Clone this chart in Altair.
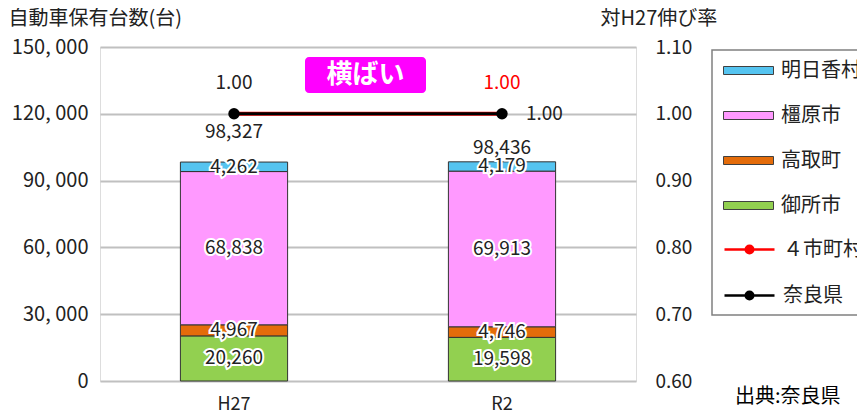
import altair as alt
import pandas as pd

FONT = "Noto Sans CJK JP"

categories = ["H27", "R2"]
gose = [20260, 19598]        # 御所市
takatori = [4967, 4746]      # 高取町
kashihara = [68838, 69913]   # 橿原市
asuka = [4262, 4179]         # 明日香村
totals = [98327, 98436]
rate_4 = [1.00, 1.00]        # ４市町村
rate_nara = [1.00, 1.00]     # 奈良県

bar_series = ["御所市", "高取町", "橿原市", "明日香村"]   # bottom -> top
bar_legend = ["明日香村", "橿原市", "高取町", "御所市"]
bar_colors = ["#55C4F0", "#FF99FF", "#E46C0A", "#92D050"]
line_legend = ["４市町村", "奈良県"]
line_colors = ["#FF0000", "#000000"]
left_ticks = [0, 30000, 60000, 90000, 120000, 150000]
right_ticks = [0.6, 0.7, 0.8, 0.9, 1.0, 1.1]

# ---- tables built from the arrays ----
rows = []
series_vals = [gose, takatori, kashihara, asuka]
for ci, cat in enumerate(categories):
    cum = 0
    for si, name in enumerate(bar_series):
        v = series_vals[si][ci]
        rows.append({"cat": cat, "series": name, "value": v, "ord": si,
                     "mid": cum + v / 2, "label": f"{v:,}"})
        cum += v
bars_df = pd.DataFrame(rows)
tot_df = pd.DataFrame({"cat": categories, "total": totals,
                       "label": [f"{t:,}" for t in totals]})
line_df = pd.DataFrame({
    "cat": categories * 2,
    "rate": rate_4 + rate_nara,
    "series": ["４市町村"] * 2 + ["奈良県"] * 2,
})

W, H = 536, 334
x_enc = alt.X("cat:N", sort=categories,
              scale=alt.Scale(paddingInner=0.6, paddingOuter=0.3),
              axis=alt.Axis(title=None, labelAngle=0, labelFontSize=18, labelFont=FONT,
                            labelColor="#222", labelPadding=14, ticks=False, domain=False))
y_scale = alt.Scale(domain=[0, 150000], nice=False, zero=True)

rect_path = "M-1,-0.4H4V0.4H-1Z"
line_path = ("M-1,0H4"
             "M1.375,0A0.125,0.125,0,1,1,1.625,0A0.125,0.125,0,1,1,1.375,0"
             "M1.125,0A0.375,0.375,0,1,1,1.875,0A0.375,0.375,0,1,1,1.125,0")

legend_common = dict(title=None, orient="none", symbolSize=400, labelOffset=37,
                     labelFontSize=20, labelFont=FONT, labelColor="#222",
                     rowPadding=24, padding=0, labelLimit=300)

bars = alt.Chart(bars_df).mark_bar(stroke="#333333", strokeWidth=1).encode(
    x=x_enc,
    y=alt.Y("value:Q", stack="zero", scale=y_scale,
            axis=alt.Axis(values=left_ticks,
                          labelExpr="replace(format(datum.value, ','), ',', ', ')",
                          title="自動車保有台数(台)",
                          titleAngle=0, titleX=-92, titleY=-29, titleAlign="left",
                          titleBaseline="middle", titleFontSize=20, titleFont=FONT,
                          titleFontWeight="normal", titleColor="#222",
                          labelFontSize=20, labelFont=FONT, labelColor="#222",
                          labelPadding=12, ticks=False, domain=False,
                          grid=True, gridColor="#C0C0C0", gridWidth=2)),
    fill=alt.Fill("series:N", scale=alt.Scale(domain=bar_legend, range=bar_colors),
                  legend=alt.Legend(legendX=623, legendY=13, symbolType=rect_path,
                                    symbolStrokeColor="#404040", symbolStrokeWidth=1,
                                    symbolOpacity=1, **legend_common)),
    order=alt.Order("ord:Q", sort="ascending"),
)

seg_halo = alt.Chart(bars_df).mark_text(font=FONT, fontSize=19, color="white",
                                        stroke="white", strokeWidth=4).encode(
    x=alt.X("cat:N", sort=categories), y=alt.Y("mid:Q", scale=y_scale), text="label:N")
seg_text = alt.Chart(bars_df).mark_text(font=FONT, fontSize=19, color="#222").encode(
    x=alt.X("cat:N", sort=categories), y=alt.Y("mid:Q", scale=y_scale), text="label:N")

tot_h27 = alt.Chart(tot_df).transform_filter(alt.datum.cat == "H27").mark_text(
    font=FONT, fontSize=19, color="#222", dy=-30).encode(
    x=alt.X("cat:N", sort=categories), y=alt.Y("total:Q", scale=y_scale), text="label:N")
tot_r2 = alt.Chart(tot_df).transform_filter(alt.datum.cat == "R2").mark_text(
    font=FONT, fontSize=19, color="#222", dy=-14).encode(
    x=alt.X("cat:N", sort=categories), y=alt.Y("total:Q", scale=y_scale), text="label:N")

one = tot_df.iloc[:1]
legend_frame = alt.Chart(one).mark_rect(fill="white", stroke="#808080", strokeWidth=1.5).encode(
    x=alt.value(612), x2=alt.value(800), y=alt.value(3), y2=alt.value(268))
badge = alt.Chart(one).mark_rect(color="#FF00FF", cornerRadius=4).encode(
    x=alt.value(205), x2=alt.value(326), y=alt.value(10), y2=alt.value(46))
badge_text = alt.Chart(one).mark_text(
    font=FONT, fontSize=26, fontWeight="bold", color="white").encode(
    x=alt.value(265.5), y=alt.value(28), text=alt.value("横ばい"))
source = alt.Chart(one).mark_text(
    font=FONT, fontSize=20, color="#000", align="left", baseline="middle").encode(
    x=alt.value(635), y=alt.value(350), text=alt.value("出典:奈良県"))

left_layer = alt.layer(legend_frame, bars, seg_halo, seg_text, tot_h27, tot_r2,
                       badge, badge_text, source)

r_scale = alt.Scale(domain=[0.6, 1.1], nice=False, zero=False)
y_r = alt.Y("rate:Q", scale=r_scale,
            axis=alt.Axis(orient="right", values=right_ticks,
                          labelExpr="format(datum.value, '.2f')",
                          title="対H27伸び率", titleAngle=0, titleX=-36, titleY=-29,
                          titleAlign="left", titleBaseline="middle", titleFontSize=20,
                          titleFont=FONT, titleFontWeight="normal", titleColor="#222",
                          labelFontSize=19, labelFont=FONT, labelColor="#222",
                          labelPadding=19, ticks=False, domain=False, grid=False))
stroke_enc = alt.Stroke("series:N", scale=alt.Scale(domain=line_legend, range=line_colors),
                        legend=alt.Legend(legendX=623, legendY=191, symbolType=line_path,
                                          symbolStrokeWidth=2.5, symbolFillColor="transparent",
                                          **legend_common))

red_line = alt.Chart(line_df).transform_filter(alt.datum.series == "４市町村").mark_line(
    strokeWidth=4).encode(x=alt.X("cat:N", sort=categories), y=y_r, stroke=stroke_enc)
blk_line = alt.Chart(line_df).transform_filter(alt.datum.series == "奈良県").mark_line(
    strokeWidth=3).encode(x=alt.X("cat:N", sort=categories),
                          y=alt.Y("rate:Q", scale=r_scale), stroke=stroke_enc)
blk_pts = alt.Chart(line_df).transform_filter(alt.datum.series == "奈良県").mark_point(
    filled=True, color="#000000", size=130, opacity=1).encode(
    x=alt.X("cat:N", sort=categories), y=alt.Y("rate:Q", scale=r_scale))

lab_h27 = alt.Chart(line_df).transform_filter(
    (alt.datum.series == "奈良県") & (alt.datum.cat == "H27")).mark_text(
    font=FONT, fontSize=19, color="#222", dy=-31).encode(
    x=alt.X("cat:N", sort=categories), y=alt.Y("rate:Q", scale=r_scale),
    text=alt.Text("rate:Q", format=".2f"))
lab_r2_red = alt.Chart(line_df).transform_filter(
    (alt.datum.series == "４市町村") & (alt.datum.cat == "R2")).mark_text(
    font=FONT, fontSize=19, color="#FF0000", dy=-31).encode(
    x=alt.X("cat:N", sort=categories), y=alt.Y("rate:Q", scale=r_scale),
    text=alt.Text("rate:Q", format=".2f"))
lab_r2_blk = alt.Chart(line_df).transform_filter(
    (alt.datum.series == "奈良県") & (alt.datum.cat == "R2")).mark_text(
    font=FONT, fontSize=19, color="#222", dx=24, align="left").encode(
    x=alt.X("cat:N", sort=categories), y=alt.Y("rate:Q", scale=r_scale),
    text=alt.Text("rate:Q", format=".2f"))

right_layer = alt.layer(red_line, blk_line, blk_pts, lab_h27, lab_r2_red, lab_r2_blk)

SVG_W, SVG_H = 849, 404
chart = alt.layer(left_layer, right_layer).resolve_scale(y="independent").properties(
    width=W, height=H,
    autosize=alt.AutoSizeParams(type="none"),
    padding={"left": 92, "top": 39, "right": SVG_W - 92 - W, "bottom": SVG_H - 39 - H},
).configure_view(stroke="#404040", strokeWidth=1.5, clip=False).configure(background="white")

chart.save("out.html", embed_options={"renderer": "svg", "actions": False})
